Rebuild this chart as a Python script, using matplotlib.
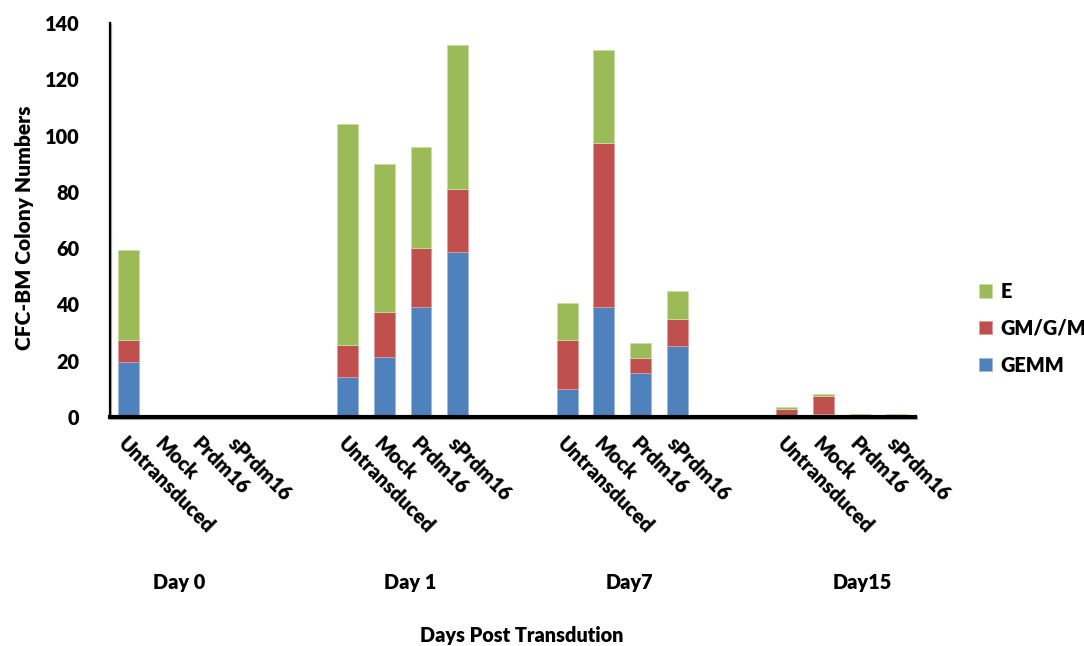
import matplotlib.pyplot as plt
import matplotlib.patheffects as pe
import numpy as np

plt.rcParams['font.family'] = ['Lato', 'DejaVu Sans']
plt.rcParams['font.weight'] = 'heavy'

# colony counts per day / construct
days = ["Day 0", "Day 1", "Day7", "Day15"]
constructs = ["Untransduced", "Mock", "Prdm16", "sPrdm16"]

gemm = [19.5, 0, 0, 0,
        14.3, 21.4, 39.0, 58.5,
        9.8, 39.0, 15.8, 25.3,
        0, 1.2, 0, 0]
gm_g_m = [7.9, 0, 0, 0,
          11.2, 16.0, 20.9, 22.4,
          17.6, 58.4, 5.1, 9.6,
          3.0, 6.3, 1.2, 0]
e = [32.0, 0, 0, 0,
     78.5, 52.6, 36.0, 51.2,
     13.0, 33.0, 5.5, 10.0,
     0.6, 0.6, 0, 1.2]

# group label positions along x (in bar slots)
day_label_x = [1.4, 7.7, 13.7, 20.05]

blue = "#4F81BD"
red = "#C0504D"
green = "#9BBB59"
fs = 14.3

# 4 bars per day, then 2 empty slots before the next day
x = np.array([g * 6 + i for g in range(len(days)) for i in range(len(constructs))])
gemm = np.array(gemm)
gm_g_m = np.array(gm_g_m)
e = np.array(e)

fig = plt.figure(figsize=(10.84, 6.46), dpi=100)
ax = fig.add_axes([0.1015, 0.3545, 0.7425, 0.61])

w = 0.57
b1 = ax.bar(x, gemm, w, color=blue, edgecolor="#9DB8DC", linewidth=0.6)
b2 = ax.bar(x, gm_g_m, w, bottom=gemm, color=red, edgecolor="#DC9C9A", linewidth=0.6)
b3 = ax.bar(x, e, w, bottom=gemm + gm_g_m, color=green, edgecolor="#C9DCA6", linewidth=0.6)

ax.set_xlim(-0.5, 21.5)
ax.set_ylim(0, 140)
ax.set_yticks(range(0, 141, 20))
ax.tick_params(axis="y", length=0, pad=22, labelsize=fs)
ax.set_xticks(x)
ax.set_xticklabels(constructs * len(days), rotation=-45, ha="left", va="top",
                   rotation_mode="anchor", fontsize=fs)
ax.tick_params(axis="x", length=0, pad=12)

for s in ["top", "right"]:
    ax.spines[s].set_visible(False)
ax.spines["left"].set_linewidth(1.6)
ax.spines["bottom"].set_linewidth(3)
for s in ["left", "bottom"]:
    ax.spines[s].set_path_effects([pe.SimpleLineShadow(offset=(1, -1), shadow_color="gray", alpha=0.6),
                                   pe.Normal()])

trans = ax.get_xaxis_transform()
for lx, d in zip(day_label_x, days):
    ax.text(lx, -0.421, d, transform=trans, ha="center", va="center",
            fontsize=fs)

ax.set_ylabel("CFC-BM Colony Numbers", fontsize=15, fontweight="heavy")
ax.yaxis.set_label_coords(-0.094, 0.48)
fig.text(0.4816, 0.0155, "Days Post Transdution", ha="center", va="center",
         fontsize=fs)

ax.legend([b3, b2, b1], ["E", "GM/G/M", "GEMM"], loc="center left",
          bbox_to_anchor=(1.058, 0.225), frameon=False, fontsize=fs,
          handlelength=0.65, handleheight=0.65, handletextpad=0.4,
          labelspacing=0.9)

plt.savefig("out.png", dpi=100)
